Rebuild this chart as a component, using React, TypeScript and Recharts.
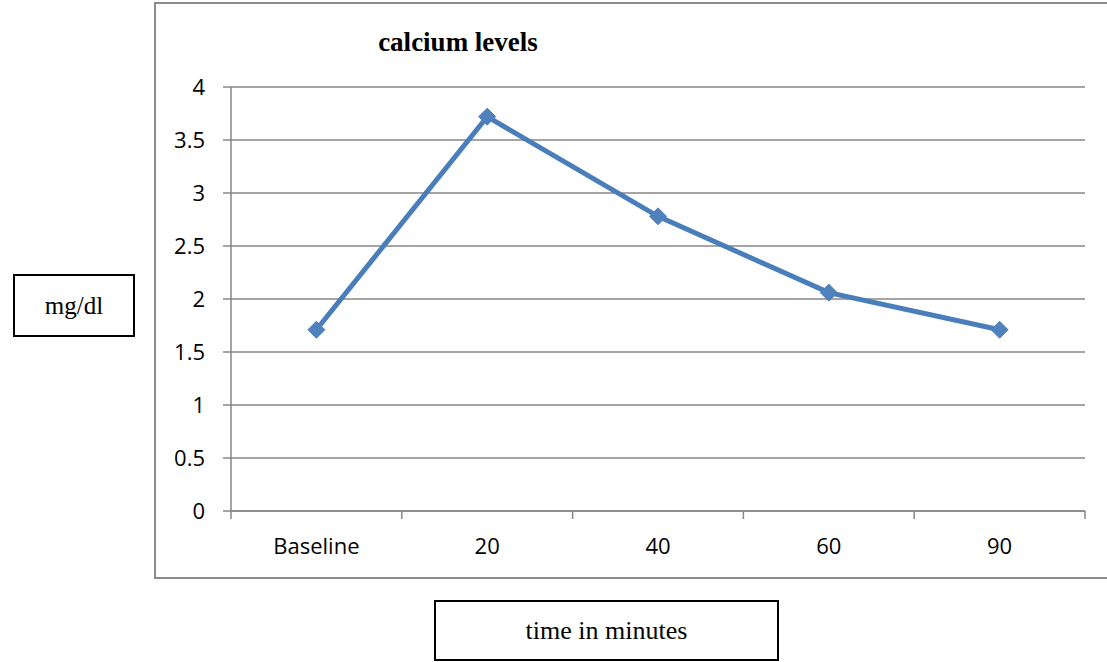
import React from "react";
import { LineChart, Line, XAxis, YAxis, CartesianGrid } from "recharts";

const categories = ["Baseline", "20", "40", "60", "90"];
const calcium = [1.71, 3.72, 2.78, 2.06, 1.71];
const yTicks = [0, 0.5, 1, 1.5, 2, 2.5, 3, 3.5, 4];

const data = categories.map((time, i) => ({ time, calcium: calcium[i] }));

const GRID = "#878787";
const BLUE = "#4a7ebb";
const TICK_FONT = "'Open Sans', 'Liberation Sans', sans-serif";
const SERIF = "'Liberation Serif', 'Times New Roman', serif";

function Diamond(props: any) {
  const { cx, cy } = props;
  if (cx == null || cy == null) return null;
  const r = 8.5;
  return (
    <polygon
      points={`${cx},${cy - r} ${cx + r},${cy} ${cx},${cy + r} ${cx - r},${cy}`}
      fill="#4f81bd"
      stroke="#4f81bd"
      strokeWidth={1}
    />
  );
}

// category label in the middle of the band, tick marks on the band edges
function BandTick(props: any) {
  const { x, y, payload, index, visibleTicksCount } = props;
  const half = payload?.offset ?? 0;
  const top = y - 8;
  return (
    <g>
      <line x1={x - half} y1={top} x2={x - half} y2={y} stroke={GRID} strokeWidth={1.5} />
      {index === visibleTicksCount - 1 && (
        <line x1={x + half} y1={top} x2={x + half} y2={y} stroke={GRID} strokeWidth={1.5} />
      )}
      <text
        x={x}
        y={y + 35}
        textAnchor="middle"
        fontFamily={TICK_FONT}
        fontSize={22}
        fill="#000"
      >
        {payload.value}
      </text>
    </g>
  );
}

export default function App() {
  return (
    <div
      style={{
        position: "absolute",
        left: 0,
        top: 0,
        width: 1107,
        height: 662,
        overflow: "hidden",
        background: "#fff",
      }}
    >
      <div
        style={{
          position: "absolute",
          left: 154,
          top: 2,
          width: 980,
          height: 573,
          border: "2px solid #8c8c8c",
        }}
      />
      <div
        style={{
          position: "absolute",
          left: 298,
          top: 27,
          width: 320,
          textAlign: "center",
          fontFamily: SERIF,
          fontWeight: "bold",
          fontSize: 27,
          color: "#000",
        }}
      >
        calcium levels
      </div>
      <div style={{ position: "absolute", left: 0, top: 0 }}>
        <LineChart
          width={1107}
          height={662}
          data={data}
          margin={{ top: 87, right: 22, left: 171, bottom: 111 }}
        >
          <CartesianGrid horizontal vertical={false} stroke={GRID} strokeWidth={1.5} />
          <XAxis
            dataKey="time"
            scale="band"
            height={40}
            axisLine={{ stroke: GRID, strokeWidth: 1.5 }}
            tickLine={false}
            tickSize={8}
            tickMargin={0}
            interval={0}
            tick={<BandTick />}
          />
          <YAxis
            width={60}
            domain={[0, 4]}
            ticks={yTicks}
            interval={0}
            axisLine={{ stroke: GRID, strokeWidth: 1.5 }}
            tickLine={{ stroke: GRID, strokeWidth: 1.5 }}
            tickSize={8}
            tickMargin={18}
            tick={{ fontFamily: TICK_FONT, fontSize: 22, fill: "#000" }}
          />
          <Line
            type="linear"
            dataKey="calcium"
            stroke={BLUE}
            strokeWidth={5}
            dot={<Diamond />}
            activeDot={false}
            isAnimationActive={false}
          />
        </LineChart>
      </div>
      <div
        style={{
          position: "absolute",
          left: 13,
          top: 274,
          width: 118,
          height: 59,
          border: "2px solid #000",
          display: "flex",
          alignItems: "center",
          justifyContent: "center",
          fontFamily: SERIF,
          fontSize: 25,
        }}
      >
        mg/dl
      </div>
      <div
        style={{
          position: "absolute",
          left: 434,
          top: 600,
          width: 341,
          height: 57,
          border: "2px solid #000",
          display: "flex",
          alignItems: "center",
          justifyContent: "center",
          fontFamily: SERIF,
          fontSize: 26,
        }}
      >
        time in minutes
      </div>
    </div>
  );
}
